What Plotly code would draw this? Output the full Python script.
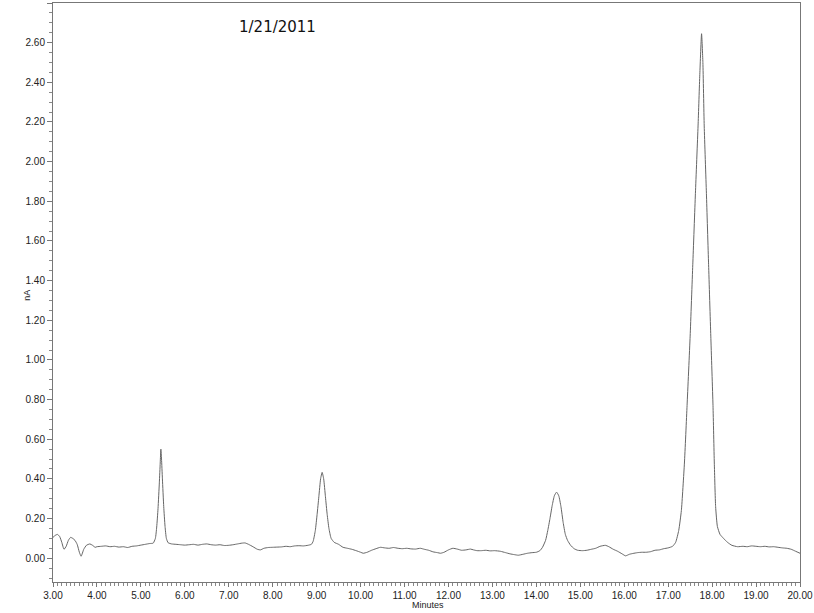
"""
Chromatogram (FID trace) - scanned printout recreation
"""
import plotly.graph_objects as go

# retention time (minutes) and detector signal (nA)
time_min = [
    3.00, 3.05, 3.10, 3.15, 3.20, 3.25, 3.30, 3.35, 3.40, 3.45, 3.50, 3.55, 3.60, 3.64,
    3.70, 3.76, 3.84, 3.90, 3.96, 4.00, 4.10, 4.20, 4.30, 4.40, 4.50, 4.60, 4.70, 4.80,
    4.90, 5.00, 5.10, 5.20, 5.28,
    5.33, 5.36, 5.39, 5.42, 5.44, 5.455, 5.47, 5.49, 5.52, 5.55, 5.58, 5.62,
    5.70, 5.80, 5.90, 6.00, 6.10, 6.20, 6.30, 6.40, 6.50, 6.60, 6.70, 6.80, 6.90, 7.00,
    7.10, 7.20, 7.30, 7.37, 7.45, 7.55, 7.65, 7.72, 7.80, 7.90, 8.00, 8.10, 8.20, 8.30,
    8.40, 8.50, 8.60, 8.70, 8.80, 8.88,
    8.92, 8.97, 9.01, 9.05, 9.09, 9.125, 9.16, 9.20, 9.24, 9.28, 9.33, 9.40,
    9.50, 9.60, 9.70, 9.80, 9.90, 10.00, 10.06, 10.15, 10.25, 10.35, 10.45, 10.55, 10.65,
    10.75, 10.85, 10.95, 11.05, 11.15, 11.25, 11.36, 11.45, 11.55, 11.65, 11.75, 11.82,
    11.90, 12.00, 12.10, 12.20, 12.30, 12.40, 12.50, 12.57, 12.65, 12.75, 12.85, 12.95,
    13.05, 13.18, 13.30, 13.40, 13.50, 13.59, 13.70, 13.80, 13.90, 14.00, 14.08,
    14.14, 14.21, 14.26, 14.31, 14.36, 14.41, 14.46, 14.51, 14.56, 14.61, 14.66, 14.71,
    14.78, 14.86,
    14.94, 15.05, 15.15, 15.25, 15.35, 15.45, 15.57, 15.65, 15.75, 15.85, 15.95, 16.03,
    16.12, 16.20, 16.30, 16.40, 16.50, 16.60, 16.70, 16.80, 16.90, 17.00, 17.10,
    17.17, 17.24, 17.30, 17.37, 17.43, 17.50, 17.56, 17.62, 17.68, 17.72, 17.76,
    17.79, 17.82, 17.87, 17.92, 17.97, 18.02, 18.05, 18.08, 18.12, 18.18, 18.26, 18.35,
    18.45, 18.58,
    18.70, 18.80, 18.90, 19.00, 19.10, 19.20, 19.30, 19.40, 19.50, 19.60, 19.70, 19.80,
    19.90, 20.00,
]
signal_na = [
    0.105, 0.115, 0.120, 0.110, 0.080, 0.045, 0.060, 0.090, 0.105, 0.100, 0.090, 0.070, 0.030, 0.010,
    0.045, 0.065, 0.072, 0.065, 0.055, 0.058, 0.060, 0.062, 0.058, 0.060, 0.056, 0.058, 0.054, 0.060,
    0.062, 0.066, 0.070, 0.074, 0.076,
    0.100, 0.157, 0.250, 0.380, 0.480, 0.550, 0.500, 0.400, 0.260, 0.160, 0.100, 0.078,
    0.072, 0.070, 0.068, 0.066, 0.068, 0.070, 0.066, 0.070, 0.072, 0.068, 0.066, 0.068, 0.064, 0.065,
    0.068, 0.072, 0.076, 0.077, 0.070, 0.058, 0.045, 0.042, 0.050, 0.054, 0.055, 0.056, 0.057, 0.060,
    0.058, 0.062, 0.063, 0.062, 0.065, 0.070,
    0.085, 0.140, 0.220, 0.310, 0.400, 0.433, 0.400, 0.310, 0.220, 0.150, 0.100, 0.080,
    0.070, 0.055, 0.050, 0.045, 0.038, 0.030, 0.025, 0.030, 0.040, 0.048, 0.055, 0.052, 0.050,
    0.054, 0.050, 0.048, 0.050, 0.047, 0.046, 0.050, 0.045, 0.040, 0.032, 0.028, 0.025,
    0.030, 0.042, 0.050, 0.046, 0.040, 0.042, 0.046, 0.042, 0.038, 0.038, 0.040, 0.037,
    0.038, 0.035, 0.028, 0.022, 0.018, 0.015, 0.020, 0.025, 0.028, 0.030, 0.038,
    0.055, 0.090, 0.140, 0.200, 0.265, 0.315, 0.333, 0.315, 0.260, 0.180, 0.120, 0.090,
    0.065, 0.048,
    0.040, 0.038, 0.040, 0.045, 0.050, 0.060, 0.065, 0.058, 0.045, 0.035, 0.022, 0.012,
    0.020, 0.024, 0.028, 0.030, 0.030, 0.033, 0.040, 0.042, 0.048, 0.052, 0.060,
    0.080, 0.140, 0.240, 0.480, 0.770, 1.120, 1.480, 1.840, 2.180, 2.440, 2.645,
    2.500, 2.180, 1.840, 1.480, 1.120, 0.770, 0.480, 0.260, 0.160, 0.120, 0.100, 0.080,
    0.065, 0.058,
    0.060, 0.058, 0.062, 0.060, 0.058, 0.060, 0.057, 0.058, 0.055, 0.052, 0.050, 0.045,
    0.035, 0.025,
]

fig = go.Figure()
fig.add_trace(go.Scatter(
    x=time_min, y=signal_na, mode='lines',
    line=dict(color='#666666', width=1, shape='spline', smoothing=0.5),
    showlegend=False, hoverinfo='skip'
))

axis_common = dict(
    showline=True, linecolor='#777777', linewidth=1, mirror=True,
    showgrid=False, zeroline=False, automargin=False,
    ticks='outside', tickcolor='#777777',
    tickfont=dict(family='Liberation Sans, Arial', size=10, color='#222222'),
    tickformat='.2f',
)

fig.update_xaxes(
    range=[3, 20], dtick=1, tick0=3, ticklen=4,
    minor=dict(ticks='outside', ticklen=3, dtick=0.1, tickcolor='#888888'),
    **axis_common
)
fig.update_yaxes(
    range=[-0.12, 2.80], dtick=0.2, tick0=0, ticklen=5,
    minor=dict(ticks='outside', ticklen=3, dtick=0.05, tickcolor='#888888'),
    **axis_common
)

# axis titles placed as annotations to match the printout
fig.add_annotation(
    text='nA', xref='paper', yref='paper', x=-0.035, y=0.496, textangle=-90,
    xanchor='center', yanchor='middle', showarrow=False,
    font=dict(family='Liberation Sans, Arial', size=9, color='#222222')
)
fig.add_annotation(
    text='Minutes', xref='paper', yref='paper', x=0.502, y=-0.040,
    xanchor='center', yanchor='middle', showarrow=False,
    font=dict(family='Liberation Sans, Arial', size=9, color='#222222')
)

# handwritten date on the printout
fig.add_annotation(
    text='1/21/2011', xref='paper', yref='paper', x=0.30, y=0.958,
    xanchor='center', yanchor='middle', showarrow=False,
    font=dict(family='DejaVu Sans', size=15, color='#111111')
)

fig.update_layout(
    width=814, height=613,
    margin=dict(l=53, r=14, t=3, b=31),
    paper_bgcolor='white', plot_bgcolor='white',
)

# drop the default page margin so the figure sits at the window origin
fig.write_html("out.html", config={'displayModeBar': False},
               post_script="document.body.style.margin='0';")
